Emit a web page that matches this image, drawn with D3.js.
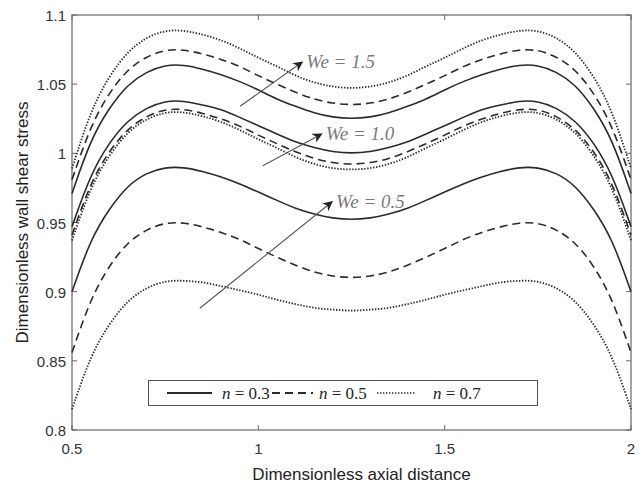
<!DOCTYPE html>
<html>
<head>
<meta charset="utf-8">
<script src="https://cdn.jsdelivr.net/npm/d3@7"></script>
<style>
  body { margin: 0; background: #fff; }
</style>
</head>
<body>
<div id="chart"></div>
<script>
// axial distance samples
const xs = [0.5, 0.55, 0.6, 0.65, 0.7, 0.75, 0.8, 0.85, 0.9, 0.95, 1.0, 1.05, 1.1, 1.15, 1.2, 1.25,
  1.3, 1.35, 1.4, 1.45, 1.5, 1.55, 1.6, 1.65, 1.7, 1.75, 1.8, 1.85, 1.9, 1.95, 2.0];

// We = 0.5
const we05n03 = [0.900, 0.938, 0.960, 0.977, 0.986, 0.990, 0.990, 0.987, 0.983, 0.978, 0.972, 0.966, 0.960, 0.956, 0.953, 0.952,
  0.953, 0.956, 0.960, 0.966, 0.972, 0.978, 0.983, 0.987, 0.990, 0.990, 0.986, 0.977, 0.960, 0.938, 0.900];
const we05n05 = [0.856, 0.895, 0.919, 0.936, 0.945, 0.950, 0.950, 0.947, 0.943, 0.938, 0.931, 0.925, 0.919, 0.914, 0.911, 0.910,
  0.911, 0.914, 0.919, 0.925, 0.931, 0.938, 0.943, 0.947, 0.950, 0.950, 0.945, 0.936, 0.919, 0.895, 0.856];
const we05n07 = [0.815, 0.854, 0.877, 0.894, 0.903, 0.908, 0.908, 0.907, 0.904, 0.901, 0.898, 0.894, 0.891, 0.888, 0.887, 0.886,
  0.887, 0.888, 0.891, 0.894, 0.898, 0.901, 0.904, 0.907, 0.908, 0.908, 0.903, 0.894, 0.877, 0.854, 0.815];
// We = 1.0
const we10n03 = [0.947, 0.985, 1.008, 1.024, 1.033, 1.038, 1.038, 1.035, 1.032, 1.026, 1.020, 1.014, 1.008, 1.004, 1.001, 1.000,
  1.001, 1.004, 1.008, 1.014, 1.020, 1.026, 1.032, 1.035, 1.038, 1.038, 1.033, 1.024, 1.008, 0.985, 0.947];
const we10n05 = [0.941, 0.979, 1.002, 1.018, 1.027, 1.032, 1.032, 1.029, 1.025, 1.020, 1.013, 1.007, 1.001, 0.996, 0.993, 0.992,
  0.993, 0.996, 1.001, 1.007, 1.013, 1.020, 1.025, 1.029, 1.032, 1.032, 1.027, 1.018, 1.002, 0.979, 0.941];
const we10n07 = [0.937, 0.976, 0.999, 1.016, 1.025, 1.030, 1.030, 1.027, 1.023, 1.017, 1.010, 1.004, 0.997, 0.992, 0.989, 0.988,
  0.989, 0.992, 0.997, 1.004, 1.010, 1.017, 1.023, 1.027, 1.030, 1.030, 1.025, 1.016, 0.999, 0.976, 0.937];
// We = 1.5
const we15n03 = [0.971, 1.010, 1.033, 1.050, 1.059, 1.064, 1.064, 1.061, 1.057, 1.052, 1.046, 1.039, 1.034, 1.029, 1.026, 1.025,
  1.026, 1.029, 1.034, 1.039, 1.046, 1.052, 1.057, 1.061, 1.064, 1.064, 1.059, 1.050, 1.033, 1.010, 0.971];
const we15n05 = [0.981, 1.020, 1.044, 1.061, 1.070, 1.075, 1.075, 1.072, 1.068, 1.063, 1.056, 1.050, 1.044, 1.039, 1.036, 1.035,
  1.036, 1.039, 1.044, 1.050, 1.056, 1.063, 1.068, 1.072, 1.075, 1.075, 1.070, 1.061, 1.044, 1.020, 0.981];
const we15n07 = [0.989, 1.031, 1.056, 1.074, 1.084, 1.089, 1.089, 1.086, 1.082, 1.076, 1.069, 1.063, 1.056, 1.051, 1.048, 1.047,
  1.048, 1.051, 1.056, 1.063, 1.069, 1.076, 1.082, 1.086, 1.089, 1.089, 1.084, 1.074, 1.056, 1.031, 0.989];

const xTicks = [0.5, 1, 1.5, 2];
const yTicks = [0.8, 0.85, 0.9, 0.95, 1, 1.05, 1.1];
const nLabels = ["0.3", "0.5", "0.7"];

// arrow annotations: [x0, y0, x1, y1, label]
const arrows = [
  [0.951, 1.034, 1.118, 1.066, "We = 1.5"],
  [1.012, 0.991, 1.170, 1.014, "We = 1.0"],
  [0.843, 0.888, 1.198, 0.965, "We = 0.5"],
];

const series = [
  { n: 0, v: we05n03 }, { n: 1, v: we05n05 }, { n: 2, v: we05n07 },
  { n: 0, v: we10n03 }, { n: 1, v: we10n05 }, { n: 2, v: we10n07 },
  { n: 0, v: we15n03 }, { n: 1, v: we15n05 }, { n: 2, v: we15n07 },
];
const dashes = [null, "8,5", "1.4,1.6"];

const sans = "'Liberation Sans', Arial, sans-serif";
const serif = "'Liberation Serif', 'Times New Roman', serif";

const width = 642, height = 486;
const margin = { top: 15, right: 11, bottom: 56, left: 72 };

const svg = d3.select("#chart").append("svg")
  .attr("width", width).attr("height", height);

const x = d3.scaleLinear().domain([0.5, 2]).range([margin.left, width - margin.right]);
const y = d3.scaleLinear().domain([0.8, 1.1]).range([height - margin.bottom, margin.top]);

const axisColor = "#666";

// frame
svg.append("rect")
  .attr("x", x(0.5)).attr("y", y(1.1))
  .attr("width", x(2) - x(0.5)).attr("height", y(0.8) - y(1.1))
  .attr("fill", "none").attr("stroke", axisColor).attr("stroke-width", 1.2);

// ticks (inside, all four sides)
const tl = 5;
const g = svg.append("g").attr("stroke", axisColor).attr("stroke-width", 1);
xTicks.forEach((t) => {
  g.append("line").attr("x1", x(t)).attr("x2", x(t)).attr("y1", y(0.8)).attr("y2", y(0.8) - tl);
  g.append("line").attr("x1", x(t)).attr("x2", x(t)).attr("y1", y(1.1)).attr("y2", y(1.1) + tl);
});
yTicks.forEach((t) => {
  g.append("line").attr("x1", x(0.5)).attr("x2", x(0.5) + tl).attr("y1", y(t)).attr("y2", y(t));
  g.append("line").attr("x1", x(2)).attr("x2", x(2) - tl).attr("y1", y(t)).attr("y2", y(t));
});

// tick labels
svg.append("g").selectAll("text").data(yTicks).enter().append("text")
  .attr("x", x(0.5) - 6).attr("y", (d) => y(d) + 6)
  .attr("text-anchor", "end").attr("font-size", 15).attr("fill", "#333")
  .style("font-family", sans)
  .text((d) => d3.format("~g")(d));
svg.append("g").selectAll("text").data(xTicks).enter().append("text")
  .attr("x", (d) => x(d)).attr("y", y(0.8) + 24)
  .attr("text-anchor", "middle").attr("font-size", 15).attr("fill", "#333")
  .style("font-family", sans)
  .text((d) => d3.format("~g")(d));

// axis titles
svg.append("text")
  .attr("x", (x(0.5) + x(2)) / 2 + 10).attr("y", 480)
  .attr("text-anchor", "middle").attr("font-size", 17).attr("fill", "#222")
  .style("font-family", sans)
  .text("Dimensionless axial distance");
svg.append("text")
  .attr("transform", `translate(28, ${(y(0.8) + y(1.1)) / 2}) rotate(-90)`)
  .attr("text-anchor", "middle").attr("font-size", 17).attr("fill", "#222")
  .style("font-family", sans)
  .text("Dimensionless wall shear stress");

// curves
const line = d3.line()
  .x((d, i) => x(xs[i]))
  .y((d) => y(d))
  .curve(d3.curveBasis);

svg.append("g").selectAll("path").data(series).enter().append("path")
  .attr("d", (d) => line(d.v))
  .attr("fill", "none")
  .attr("stroke", "#2a2a2a")
  .attr("stroke-width", (d) => (d.n === 2 ? 1.8 : 1.6))
  .attr("stroke-dasharray", (d) => dashes[d.n]);

// arrows
svg.append("defs").append("marker")
  .attr("id", "head").attr("viewBox", "0 0 10 10")
  .attr("refX", 9).attr("refY", 5)
  .attr("markerWidth", 10).attr("markerHeight", 10)
  .attr("markerUnits", "userSpaceOnUse")
  .attr("orient", "auto")
  .append("path").attr("d", "M0,0 L10,5 L0,10 L3,5 Z").attr("fill", "#222");

const ann = svg.append("g");
arrows.forEach((a) => {
  ann.append("line")
    .attr("x1", x(a[0])).attr("y1", y(a[1]))
    .attr("x2", x(a[2])).attr("y2", y(a[3]))
    .attr("stroke", "#555").attr("stroke-width", 1.1)
    .attr("marker-end", "url(#head)");
  ann.append("text")
    .attr("x", x(a[2]) + 4).attr("y", y(a[3]) + 6)
    .style("font-family", serif)
    .attr("font-style", "italic").attr("font-size", 19).attr("fill", "#7a7a7a")
    .text(a[4]);
});

// legend
const lg = svg.append("g");
lg.append("rect")
  .attr("x", 148.5).attr("y", 380.5).attr("width", 389).attr("height", 25)
  .attr("fill", "#fff").attr("stroke", "#555").attr("stroke-width", 1);
const entries = [
  { x0: 167, x1: 212, tx: 222 },
  { x0: 272, x1: 313, tx: 319 },
  { x0: 377, x1: 416, tx: 433 },
];
entries.forEach((e, i) => {
  lg.append("line")
    .attr("x1", e.x0).attr("x2", e.x1).attr("y1", 393).attr("y2", 393)
    .attr("stroke", "#2a2a2a").attr("stroke-width", i === 2 ? 1.4 : 2)
    .attr("stroke-dasharray", dashes[i]);
  const t = lg.append("text")
    .attr("x", e.tx).attr("y", 399)
    .style("font-family", serif)
    .attr("font-size", 17).attr("fill", "#222");
  t.append("tspan").attr("font-style", "italic").text("n");
  t.append("tspan").text(" = " + nLabels[i]);
});
</script>
</body>
</html>
